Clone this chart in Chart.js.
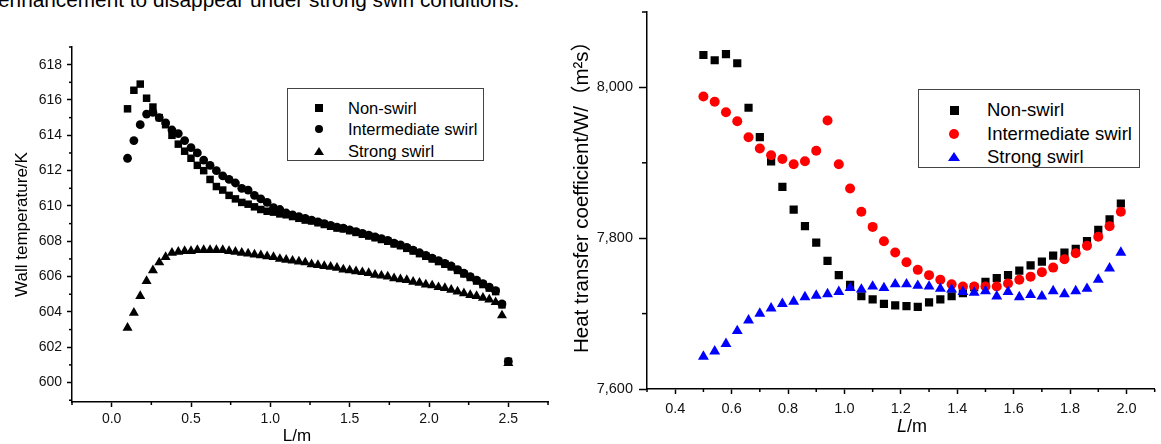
<!DOCTYPE html>
<html>
<head>
<meta charset="utf-8">
<script src="https://cdn.jsdelivr.net/npm/chart.js@4.4.1/dist/chart.umd.min.js"></script>
<style>
  body { margin: 0; background: #fff; }
  #wrap { position: relative; width: 1161px; height: 444px; overflow: hidden; background: #fff;
          font-family: "Liberation Sans", Arial, sans-serif; color: #000; }
  canvas { position: absolute; top: 0; }
  #leftChart { left: 0; }
  #rightChart { left: 560px; }
  .note { position: absolute; left: -2px; top: -10.5px; font-size: 20.8px; line-height: 20.8px; white-space: nowrap; }
  .xtitle { position: absolute; white-space: nowrap; transform: translateX(-50%); line-height: 1; }
  .legend { position: absolute; box-sizing: border-box; border: 1px solid #444; background: #fff; }
  .legend .mk, .legend .lb { position: absolute; }
  .legend .lb { white-space: nowrap; }
</style>
</head>
<body>
<div id="wrap">
  <div class="note">enhancement to disappear under strong swirl conditions.</div>
  <canvas id="leftChart" width="560" height="444"></canvas>
  <canvas id="rightChart" width="601" height="444"></canvas>
  <div class="xtitle" style="left:297px; top:427px; font-size:17px;">L/m</div>
  <div class="xtitle" style="left:912px; top:417px; font-size:18px;"><i>L</i>/m</div>
  <div class="legend" id="leftLegend" style="left:287px; top:88px; width:197px; height:73px;"></div>
  <div class="legend" id="rightLegend" style="left:918px; top:89px; width:222px; height:79px;"></div>
</div>
<script>
// ---- data: left panel (wall temperature, K) ----
const seriesNames = ['Non-swirl', 'Intermediate swirl', 'Strong swirl'];

const leftL = [0.10,0.14,0.18,0.22,0.26,0.30,0.34,0.38,0.42,0.46,0.50,0.54,0.58,0.62,0.66,0.70,0.74,0.78,0.82,0.86,
  0.90,0.94,0.98,1.02,1.06,1.10,1.14,1.18,1.22,1.26,1.30,1.34,1.38,1.42,1.46,1.50,1.54,1.58,1.62,1.66,
  1.70,1.74,1.78,1.82,1.86,1.90,1.94,1.98,2.02,2.06,2.10,2.14,2.18,2.22,2.26,2.30,2.34,2.38,2.42,2.46,2.50];

const leftNonSwirl = [615.5,616.55,616.9,616.1,615.6,615.0,614.6,614.0,613.5,613.1,612.7,612.3,612.0,611.5,611.1,610.9,610.6,610.4,610.2,610.1,
  609.95,609.8,609.7,609.65,609.55,609.5,609.4,609.3,609.2,609.15,609.05,608.95,608.85,608.75,608.7,608.6,608.5,608.4,608.3,608.2,
  608.1,608.0,607.85,607.75,607.6,607.45,607.3,607.15,607.0,606.85,606.7,606.55,606.35,606.15,605.95,605.75,605.55,605.35,605.15,604.4,601.2];

const leftInterSwirl = [612.7,613.7,614.6,615.2,615.3,615.0,614.7,614.3,614.1,613.7,613.3,613.0,612.6,612.3,612.0,611.7,611.5,611.3,611.0,610.9,
  610.6,610.4,610.2,609.9,609.8,609.6,609.5,609.4,609.3,609.2,609.1,609.0,608.9,608.8,608.75,608.65,608.55,608.45,608.35,608.25,
  608.15,608.05,607.9,607.8,607.65,607.5,607.35,607.2,607.05,606.9,606.75,606.6,606.4,606.2,606.0,605.8,605.6,605.4,605.2,604.45,601.2];

const leftStrongSwirl = [603.1,603.95,604.9,605.75,606.35,606.8,607.1,607.35,607.4,607.45,607.45,607.5,607.5,607.5,607.5,607.5,607.45,607.4,607.35,607.3,
  607.25,607.2,607.15,607.1,607.0,606.95,606.9,606.85,606.8,606.7,606.65,606.6,606.55,606.5,606.4,606.35,606.3,606.25,606.2,606.1,
  606.05,606.0,605.9,605.85,605.8,605.7,605.65,605.55,605.5,605.4,605.35,605.25,605.15,605.05,604.95,604.9,604.8,604.7,604.55,603.8,601.1];

const leftXTicks = [0, 0.5, 1, 1.5, 2, 2.5];
const leftXMinor = [-0.25, 0.25, 0.75, 1.25, 1.75, 2.25, 2.75];
const leftYTicks = [600, 602, 604, 606, 608, 610, 612, 614, 616, 618];
const leftYMinor = [599, 601, 603, 605, 607, 609, 611, 613, 615, 617, 619];

// ---- data: right panel (heat transfer coefficient) ----
const rightL = [0.50,0.54,0.58,0.62,0.66,0.70,0.74,0.78,0.82,0.86,0.90,0.94,0.98,1.02,1.06,1.10,1.14,1.18,1.22,
  1.26,1.30,1.34,1.38,1.42,1.46,1.50,1.54,1.58,1.62,1.66,1.70,1.74,1.78,1.82,1.86,1.90,1.94,1.98];

const rightNonSwirl = [8043,8036,8044,8032,7973,7934,7902,7868,7838,7816,7794,7770,7751,7738,7723,7719,7713,7711,7710,
  7709,7715,7719,7723,7727,7735,7742,7747,7751,7757,7764,7769,7777,7781,7786,7796,7811,7825,7846];

const rightInterSwirl = [7988,7981,7967,7955,7934,7919,7910,7905,7898,7902,7916,7956,7898,7866,7835,7815,7796,7781,7768,
  7758,7751,7745,7739,7736,7736,7736,7736,7740,7745,7749,7755,7761,7772,7780,7790,7802,7816,7835];

const rightStrongSwirl = [7643,7650,7660,7677,7691,7700,7707,7713,7716,7722,7724,7726,7729,7734,7732,7736,7734,7739,7739,
  7737,7736,7733,7732,7729,7728,7730,7723,7729,7722,7725,7723,7730,7726,7730,7733,7745,7760,7781];

const rightXTicks = [0.4, 0.6, 0.8, 1.0, 1.2, 1.4, 1.6, 1.8, 2.0];
const rightXMinor = [0.3, 0.5, 0.7, 0.9, 1.1, 1.3, 1.5, 1.7, 1.9, 2.1];
const rightYTicks = [7600, 7800, 8000];
const rightYMinor = [7700, 7900, 8100];

const FONT = '"Liberation Sans", Arial, "Noto Sans CJK SC", sans-serif';

// small tick marks between the labelled ones
const minorTicks = {
  id: 'minorTicks',
  afterDraw(chart, args, opts) {
    const ctx = chart.ctx;
    const xs = chart.scales.x, ys = chart.scales.y;
    ctx.save();
    ctx.strokeStyle = '#000';
    ctx.lineWidth = 1.5;
    opts.x.forEach(v => {
      const px = xs.getPixelForValue(v);
      ctx.beginPath(); ctx.moveTo(px, xs.top); ctx.lineTo(px, xs.top + opts.xLen); ctx.stroke();
    });
    opts.y.forEach(v => {
      const py = ys.getPixelForValue(v);
      ctx.beginPath(); ctx.moveTo(ys.right, py); ctx.lineTo(ys.right - opts.yLen, py); ctx.stroke();
    });
    ctx.restore();
  }
};

function pts(xs, ys) {
  return xs.map((x, i) => ({ x: x, y: ys[i] }));
}

function makeScale(o) {
  return {
    type: 'linear',
    min: o.min,
    max: o.max,
    border: { display: true, color: '#000', width: 1.5 },
    grid: { drawOnChartArea: false, drawTicks: true, tickLength: o.tickLen, tickColor: '#000', tickWidth: 1.5 },
    ticks: {
      autoSkip: false, maxRotation: 0, padding: o.pad, color: '#111',
      font: { family: FONT, size: o.fontSize },
      callback: o.fmt
    },
    title: o.title || { display: false },
    afterBuildTicks: s => { s.ticks = o.ticks.map(v => ({ value: v })); },
    afterFit: s => {
      if (o.width) s.width = o.width;
      if (o.height) s.height = o.height;
      s.paddingTop = 0; s.paddingBottom = 0; s.paddingLeft = 0; s.paddingRight = 0;
    }
  };
}

function baseOptions(padding, scales, minor) {
  return {
    responsive: false,
    animation: false,
    devicePixelRatio: 1,
    events: [],
    layout: { padding: padding },
    plugins: { legend: { display: false }, tooltip: { enabled: false }, minorTicks: minor },
    scales: scales
  };
}

// ---- left chart ----
new Chart(document.getElementById('leftChart'), {
  type: 'scatter',
  data: {
    datasets: [
      { label: seriesNames[0], data: pts(leftL, leftNonSwirl), pointStyle: 'rect', pointRadius: 5.3,
        backgroundColor: '#000', borderWidth: 0, order: 3 },
      { label: seriesNames[1], data: pts(leftL, leftInterSwirl), pointStyle: 'circle', pointRadius: 4.4,
        backgroundColor: '#000', borderWidth: 0, order: 2 },
      { label: seriesNames[2], data: pts(leftL, leftStrongSwirl), pointStyle: 'triangle', pointRadius: 5.8,
        backgroundColor: '#000', borderWidth: 0, order: 1 }
    ]
  },
  options: baseOptions(
    { left: 0, top: 47, right: 12, bottom: 0 },
    {
      x: makeScale({ min: -0.25, max: 2.75, ticks: leftXTicks, tickLen: 5, pad: 4, fontSize: 14,
                     height: 42, fmt: v => v.toFixed(1) }),
      y: makeScale({ min: 598.9, max: 619, ticks: leftYTicks, tickLen: 5, pad: 5, fontSize: 14,
                     width: 72, fmt: v => String(v),
                     title: { display: true, text: 'Wall temperature/K', color: '#000',
                              font: { family: FONT, size: 17 }, padding: { top: 12, bottom: 0 } } })
    },
    { x: leftXMinor, y: leftYMinor, xLen: 3, yLen: 3 }
  ),
  plugins: [minorTicks]
});

// ---- right chart ----
new Chart(document.getElementById('rightChart'), {
  type: 'scatter',
  data: {
    datasets: [
      { label: seriesNames[0], data: pts(rightL, rightNonSwirl), pointStyle: 'rect', pointRadius: 5.8,
        backgroundColor: '#000', borderWidth: 0, order: 3 },
      { label: seriesNames[1], data: pts(rightL, rightInterSwirl), pointStyle: 'circle', pointRadius: 5,
        backgroundColor: '#ff0000', borderWidth: 0, order: 2 },
      { label: seriesNames[2], data: pts(rightL, rightStrongSwirl), pointStyle: 'triangle', pointRadius: 6.3,
        backgroundColor: '#0000ff', borderWidth: 0, order: 1 }
    ]
  },
  options: baseOptions(
    { left: 0, top: 12, right: 5, bottom: 0 },
    {
      x: makeScale({ min: 0.3, max: 2.1, ticks: rightXTicks, tickLen: 5, pad: 6, fontSize: 14.5,
                     height: 55, fmt: v => v.toFixed(1) }),
      // leading spaces nudge the rotated title up a little, as in the original figure
      y: makeScale({ min: 7600, max: 8100, ticks: rightYTicks, tickLen: 8, pad: 6, fontSize: 14.5,
                     width: 87, fmt: v => v.toLocaleString('en-US'),
                     title: { display: true, text: '   Heat transfer coefficient/W/（m²s）', color: '#000',
                              font: { family: FONT, size: 20.5 }, padding: { top: 10.5, bottom: 0 } } })
    },
    { x: rightXMinor, y: rightYMinor, xLen: 3, yLen: 5 }
  ),
  plugins: [minorTicks]
});

// ---- legends (boxed, inside the plot areas) ----
function buildLegend(el, colors, cfg) {
  const shapes = ['square', 'circle', 'triangle'];
  seriesNames.forEach((name, i) => {
    const cy = cfg.rows[i];
    const mk = document.createElement('div');
    mk.className = 'mk';
    const c = colors[i];
    if (shapes[i] === 'triangle') {
      const w = cfg.tri[0], h = cfg.tri[1];
      mk.style.cssText = `left:${cfg.mx - w / 2}px; top:${cy - h / 2}px; width:0; height:0;` +
        `border-left:${w / 2}px solid transparent; border-right:${w / 2}px solid transparent; border-bottom:${h}px solid ${c};`;
    } else {
      const s = shapes[i] === 'square' ? cfg.sq : cfg.ci;
      mk.style.cssText = `left:${cfg.mx - s / 2}px; top:${cy - s / 2}px; width:${s}px; height:${s}px; background:${c};` +
        (shapes[i] === 'circle' ? 'border-radius:50%;' : '');
    }
    el.appendChild(mk);
    const lb = document.createElement('div');
    lb.className = 'lb';
    lb.textContent = name;
    lb.style.cssText = `left:${cfg.tx}px; top:${cy - 10}px; line-height:20px; font-size:${cfg.fs}px;`;
    el.appendChild(lb);
  });
}

buildLegend(document.getElementById('leftLegend'), ['#000', '#000', '#000'],
  { rows: [19, 40, 62], mx: 31, tx: 60, sq: 7.5, ci: 8.5, tri: [10, 8.5], fs: 16.5 });
buildLegend(document.getElementById('rightLegend'), ['#000', '#ff0000', '#0000ff'],
  { rows: [20, 44, 67], mx: 35, tx: 68, sq: 9, ci: 10, tri: [13, 9.5], fs: 18.5 });
</script>
</body>
</html>
